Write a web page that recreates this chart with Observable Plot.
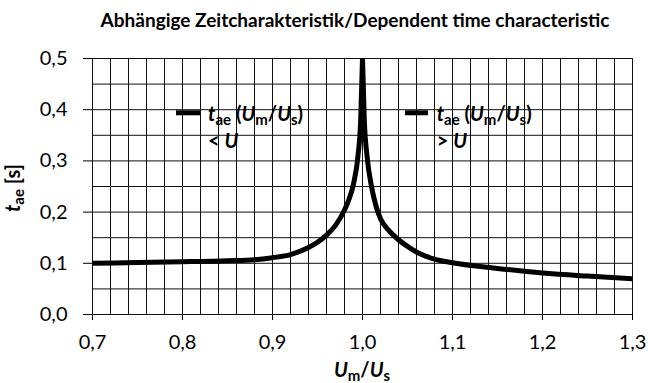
<!DOCTYPE html>
<html><head><meta charset="utf-8">
<script src="https://cdn.jsdelivr.net/npm/d3@7"></script>
<script src="https://cdn.jsdelivr.net/npm/@observablehq/plot@0.6"></script>
<style>body{margin:0;background:#fff}#chart svg{display:block}</style>
</head><body><div id="chart"></div>
<script>
// ---- data ----
const titleText = "Abhängige Zeitcharakteristik/Dependent time characteristic";
const xTicks = [0.7, 0.8, 0.9, 1.0, 1.1, 1.2, 1.3];
const yTicks = [0, 0.1, 0.2, 0.3, 0.4, 0.5];
const xGrid = [0.70,0.72,0.74,0.76,0.78,0.80,0.82,0.84,0.86,0.88,0.90,0.92,0.94,0.96,0.98,1.00,1.02,1.04,1.06,1.08,1.10,1.12,1.14,1.16,1.18,1.20,1.22,1.24,1.26,1.28,1.30];
const yGrid = [0,0.05,0.10,0.15,0.20,0.25,0.30,0.35,0.40,0.45,0.50];
// t_ae for Um/Us < U
const belowX = [0.70, 0.75, 0.80, 0.85, 0.88, 0.90, 0.92, 0.94, 0.95, 0.96, 0.97, 0.98, 0.985, 0.99, 0.995, 0.998, 1.0];
const belowY = [0.100, 0.1015, 0.103, 0.105, 0.107, 0.111, 0.117, 0.131, 0.141, 0.155, 0.174, 0.204, 0.225, 0.255, 0.31, 0.38, 0.5];
// t_ae for Um/Us > U
const aboveX = [1.0, 1.002, 1.005, 1.01, 1.015, 1.02, 1.03, 1.04, 1.05, 1.06, 1.07, 1.08, 1.10, 1.15, 1.20, 1.25, 1.30];
const aboveY = [0.5, 0.38, 0.31, 0.25, 0.212, 0.187, 0.163, 0.146, 0.133, 0.122, 0.114, 0.108, 0.101, 0.090, 0.081, 0.075, 0.070];
const legendLabels = ["<", ">"];

const below = belowX.map((x, i) => ({x, y: belowY[i]}));
const above = aboveX.map((x, i) => ({x, y: aboveY[i]}));
const fmt = d => d.toFixed(1).replace(".", ",");

const FONT = "Lato, 'Open Sans', sans-serif";
const plot = Plot.plot({
  width: 648, height: 383,
  marginLeft: 92, marginRight: 16, marginTop: 58, marginBottom: 69,
  style: {fontFamily: FONT, fontSize: "20px", color: "#000", background: "#fff"},
  x: {domain: [0.7, 1.3], ticks: xTicks, tickSize: 6, tickPadding: 14, tickFormat: fmt, label: null},
  y: {domain: [0, 0.5], ticks: yTicks, tickSize: 9, tickPadding: 16, tickFormat: fmt, label: null},
  marks: [
    Plot.ruleX(xGrid, {stroke: "#111", strokeWidth: 1}),
    Plot.ruleY(yGrid, {stroke: "#111", strokeWidth: 1}),
    Plot.line(below, {x: "x", y: "y", stroke: "#000", strokeWidth: 5, curve: "monotone-x", clip: true}),
    Plot.line(above, {x: "x", y: "y", stroke: "#000", strokeWidth: 5, curve: "monotone-x", clip: true})
  ]
});
document.getElementById("chart").appendChild(plot);

const svg = d3.select(plot);
const xs = plot.scale("x"), ys = plot.scale("y");

function rich(x, y, parts, opts = {}) {
  const t = svg.append("text")
    .attr("x", x).attr("y", y)
    .attr("font-family", FONT)
    .attr("font-size", opts.size || 20)
    .attr("font-weight", "bold")
    .attr("fill", "#000")
    .attr("text-anchor", opts.anchor || "start");
  if (opts.rotate) t.attr("transform", `rotate(${opts.rotate},${x},${y})`);
  let shifted = 0;
  for (const p of parts) {
    const ts = t.append("tspan").text(p.t);
    if (p.it) ts.attr("font-style", "italic");
    if (p.sub) {
      ts.attr("font-size", "0.75em").attr("dy", 4 - shifted);
      shifted = 4;
    } else if (shifted) {
      ts.attr("dy", -shifted);
      shifted = 0;
    }
  }
  return t;
}

// title
rich(355, 27, [{t: titleText}], {anchor: "middle", size: 19});
// axis labels
rich(362, 377, [{t: "U", it: true}, {t: "m", sub: true}, {t: "/"}, {t: "U", it: true}, {t: "s", sub: true}], {anchor: "middle"});
rich(20, 188, [{t: "t", it: true}, {t: "ae", sub: true}, {t: " [s]"}], {anchor: "middle", rotate: -90});

// legends (in-plot)
const legendPos = [{x1: 0.7933, x2: 0.82, tx: 0.829, y: 0.393}, {x1: 1.0478, x2: 1.0733, tx: 1.083, y: 0.393}];
legendPos.forEach((p, i) => {
  svg.append("line")
    .attr("x1", xs.apply(p.x1)).attr("x2", xs.apply(p.x2))
    .attr("y1", ys.apply(p.y)).attr("y2", ys.apply(p.y))
    .attr("stroke", "#000").attr("stroke-width", 5);
  const tx = xs.apply(p.tx), ty = ys.apply(p.y) + 8;
  rich(tx, ty, [{t: "t", it: true}, {t: "ae", sub: true}, {t: " ("}, {t: "U", it: true}, {t: "m", sub: true}, {t: "/"}, {t: "U", it: true}, {t: "s", sub: true}, {t: ")"}]);
  rich(tx, ty + 27, [{t: legendLabels[i] + " "}, {t: "U", it: true}]);
});
</script></body></html>
